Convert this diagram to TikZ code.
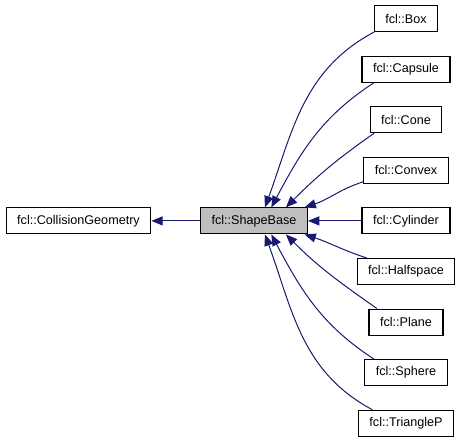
\documentclass[tikz,border=0pt]{standalone}
\usepackage{fontspec}
\setmainfont{Liberation Sans}
\usetikzlibrary{arrows.meta}
\definecolor{edgeblue}{HTML}{191970}
\definecolor{basegray}{HTML}{BFBFBF}

\tikzset{
	cls/.style={draw=black,line width=0.8pt,fill=white,inner xsep=8.3pt,inner ysep=0pt,
		minimum height=19.5pt,font=\fontsize{9.45}{11}\selectfont},
	inherit/.style={draw=edgeblue,line width=0.75pt,
		-{Triangle[length=8.5pt,width=6.8pt]}}
}

\begin{document}
\begin{tikzpicture}[x=0.75pt,y=-0.75pt]
	\path[use as bounding box] (0,0) rectangle (461,443);
	% base classes
	\node[cls] (geom) at (78.5,220.9) {fcl::CollisionGeometry};
	\node[cls,fill=basegray] (base) at (254,220.9) {fcl::ShapeBase};
	% derived shapes
	\node[cls] (box) at (406,18.5) {fcl::Box};
	\node[cls] (capsule) at (406,69.1) {fcl::Capsule};
	\node[cls] (cone) at (406,119.7) {fcl::Cone};
	\node[cls] (convex) at (406,170.3) {fcl::Convex};
	\node[cls] (cylinder) at (406,220.9) {fcl::Cylinder};
	\node[cls] (halfspace) at (406,271.5) {fcl::Halfspace};
	\node[cls] (plane) at (406,322.1) {fcl::Plane};
	\node[cls] (sphere) at (406,372.7) {fcl::Sphere};
	\node[cls] (triangle) at (406,423.3) {fcl::TriangleP};

	\draw[inherit] (base) -- (geom);
	\draw[inherit] (box.203) to[out=208,in=70] (base.51);
	\draw[inherit] (capsule.203) to[out=213,in=62] (base.38);
	\draw[inherit] (cone.203) to[out=215,in=45] (base.23);
	\draw[inherit] (convex.195) to[out=198,in=18] (base.15);
	\draw[inherit] (cylinder) -- (base);
	\draw[inherit] (halfspace.161) to[out=162,in=-18] (base.-15);
	\draw[inherit] (plane.155) to[out=145,in=-45] (base.-23);
	\draw[inherit] (sphere.157) to[out=147,in=-62] (base.-38);
	\draw[inherit] (triangle.158) to[out=152,in=-70] (base.-51);
\end{tikzpicture}
\end{document}
